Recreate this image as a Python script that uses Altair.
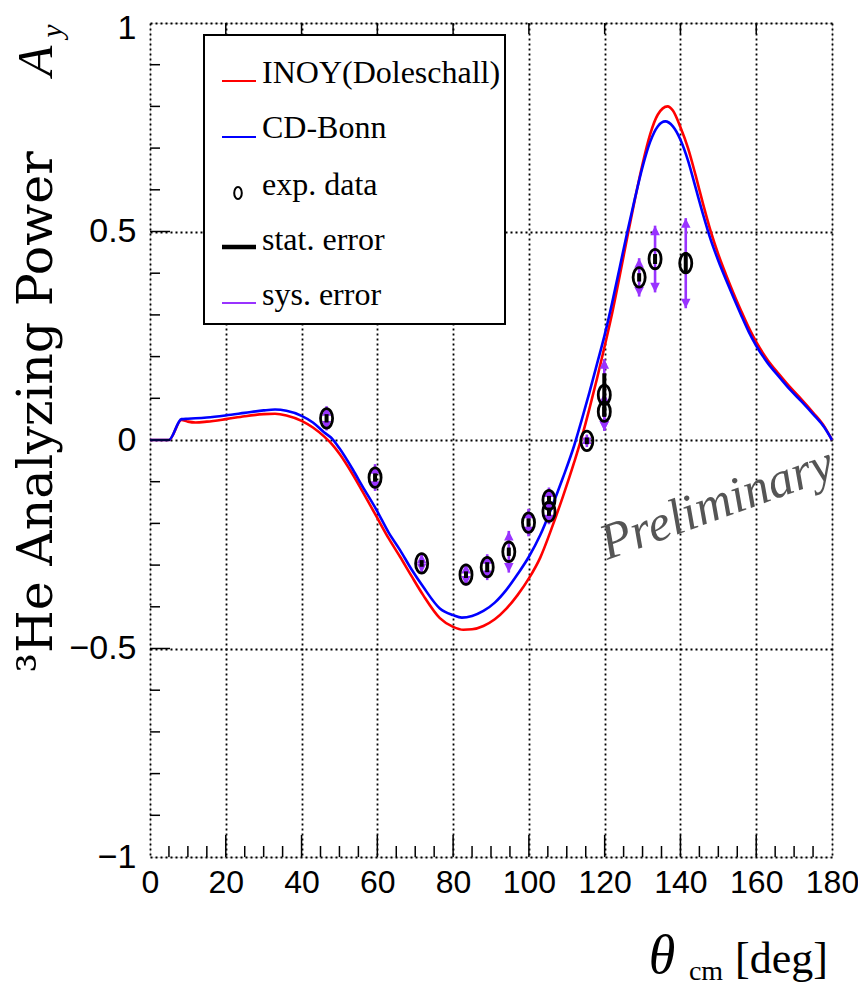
import altair as alt
import pandas as pd

# ---------------- data ----------------
# INOY (Doleschall) theory curve
inoy_x = [0, 5.0, 8.3, 10, 12, 15, 20, 25, 30, 33, 36, 40, 43, 46, 48, 50, 53.6, 56, 59.8, 63, 66, 69,
          72.1, 76.5, 80, 82.7, 85, 88, 91, 94, 97, 100, 103, 106, 109, 112, 114, 116, 118, 120, 122,
          124, 126, 128, 130, 132, 134, 136.6, 138, 140, 142, 144, 146, 148, 150, 152, 154, 156, 158,
          160, 163, 166, 169, 172, 175, 178, 180]
inoy_y = [0, 0, 0.048, 0.044, 0.042, 0.044, 0.05, 0.057, 0.062, 0.063, 0.059, 0.046, 0.03, 0.008, -0.01,
          -0.033, -0.084, -0.122, -0.184, -0.236, -0.28, -0.326, -0.372, -0.427, -0.448, -0.455, -0.454,
          -0.446, -0.43, -0.405, -0.372, -0.332, -0.282, -0.212, -0.135, -0.052, 0.008, 0.076, 0.148,
          0.225, 0.305, 0.395, 0.488, 0.578, 0.662, 0.733, 0.78, 0.80, 0.79, 0.75, 0.70, 0.635, 0.565,
          0.50, 0.445, 0.397, 0.352, 0.31, 0.27, 0.235, 0.192, 0.158, 0.126, 0.097, 0.066, 0.032, 0]

# CD-Bonn theory curve
bonn_x = [0, 5.0, 8.3, 10, 12, 15, 20, 25, 30, 33, 36, 40, 43, 46, 48, 50, 53.6, 56, 59.8, 63, 66, 69,
          72.1, 76.5, 80, 82.3, 85, 88, 91, 94, 97, 100, 103, 106, 109, 112, 114, 116, 118, 120, 122,
          124, 126, 128, 130, 132, 134, 136, 138, 140, 142, 144, 146, 148, 150, 152, 154, 156, 158,
          160, 163, 166, 169, 172, 175, 178, 180]
bonn_y = [0, 0, 0.05, 0.051, 0.052, 0.054, 0.059, 0.065, 0.071, 0.073, 0.07, 0.058, 0.042, 0.018, 0.004,
          -0.02, -0.072, -0.11, -0.168, -0.222, -0.264, -0.31, -0.352, -0.404, -0.42, -0.426, -0.422,
          -0.41, -0.39, -0.36, -0.322, -0.28, -0.228, -0.162, -0.09, -0.012, 0.05, 0.115, 0.183, 0.252,
          0.33, 0.415, 0.50, 0.58, 0.655, 0.715, 0.752, 0.764, 0.752, 0.72, 0.67, 0.605, 0.54, 0.48,
          0.43, 0.385, 0.342, 0.30, 0.26, 0.226, 0.185, 0.152, 0.12, 0.092, 0.062, 0.03, 0]

# experimental data
exp_x = [46.6, 59.4, 71.7, 83.4, 89.0, 94.7, 99.9, 105.3, 105.3, 115.3, 119.9, 119.9, 129.1, 133.3, 141.4]
exp_y = [0.052, -0.090, -0.296, -0.323, -0.305, -0.268, -0.198, -0.144, -0.172, -0.002, 0.108, 0.068,
         0.390, 0.434, 0.424]
stat_err = [0.010, 0.010, 0.008, 0.008, 0.012, 0.010, 0.010, 0.010, 0.010, 0.008, 0.052, 0.012, 0.010,
            0.012, 0.026]
sys_err = [0.029, 0.032, 0.023, 0.026, 0.031, 0.050, 0.033, 0.030, 0.030, 0.015, 0.086, 0.045, 0.046,
           0.080, 0.108]

x_tick_values = [0, 20, 40, 60, 80, 100, 120, 140, 160, 180]
y_tick_values = [-1, -0.5, 0, 0.5, 1]
x_minor = [v for v in range(5, 180, 5) if v % 20 != 0]
x_major = [20, 40, 60, 80, 100, 120, 140, 160]
y_minor = [round(v / 10, 1) for v in range(-9, 10) if v % 5 != 0]
y_major = [-0.5, 0, 0.5]

legend_labels = ["INOY(Doleschall)", "CD-Bonn", "exp. data", "stat. error", "sys. error"]

prelim_pos = (120.7, -0.288)

# ---------------- build ----------------
W, H = 682, 834
RED, BLUE, PURPLE = "#ff0000", "#0000ff", "#9933ff"
SERIF = "Liberation Serif"
SANS = "Liberation Sans"

xs = alt.Scale(domain=[0, 180], nice=False, zero=False)
ys = alt.Scale(domain=[-1, 1], nice=False, zero=False)

x_axis = alt.Axis(values=x_tick_values, format="d", grid=True, gridDash=[2, 3], gridColor="black",
                  gridWidth=1.8, gridOpacity=1, ticks=False, domain=False, labelFont=SANS,
                  labelFontSize=32, labelColor="black", labelPadding=10, labelFlush=False,
                  labelOverlap=False, title=None)
y_axis = alt.Axis(values=y_tick_values, format="~g", grid=True, gridDash=[2, 3], gridColor="black",
                  gridWidth=1.8, gridOpacity=1, ticks=False, domain=False, labelFont=SANS,
                  labelFontSize=34, labelColor="black", labelPadding=14, labelOverlap=False,
                  labelOffset=alt.ExprRef("datum.value == 1 ? 5 : 0"), title=None)


def X(field):
    return alt.X(field, scale=xs, axis=x_axis)


def Y(field):
    return alt.Y(field, scale=ys, axis=y_axis)


inoy_df = pd.DataFrame({"x": inoy_x, "y": inoy_y})
bonn_df = pd.DataFrame({"x": bonn_x, "y": bonn_y})

curve_inoy = alt.Chart(inoy_df).mark_line(strokeWidth=2.6, interpolate="monotone", color=RED).encode(
    x=X("x:Q"), y=Y("y:Q"), order=alt.Order("x:Q"))
curve_bonn = alt.Chart(bonn_df).mark_line(strokeWidth=2.6, interpolate="monotone", color=BLUE).encode(
    x=X("x:Q"), y=Y("y:Q"), order=alt.Order("x:Q"))

pts = pd.DataFrame({"x": exp_x, "y": exp_y, "stat": stat_err, "sys": sys_err})
pts["slo"] = pts["y"] - pts["stat"]
pts["shi"] = pts["y"] + pts["stat"]
pts["ylo"] = pts["y"] - pts["sys"]
pts["yhi"] = pts["y"] + pts["sys"]
pbase = alt.Chart(pts)

sys_rule = pbase.mark_rule(color=PURPLE, strokeWidth=2.6).encode(x=X("x:Q"), y=Y("ylo:Q"), y2="yhi:Q")
up_head = pbase.mark_point(shape="M0,0L0.55,1.1L-0.55,1.1Z", filled=True, size=300, color=PURPLE,
                           opacity=1).encode(x=X("x:Q"), y=Y("yhi:Q"))
down_head = pbase.mark_point(shape="M0,0L0.55,-1.1L-0.55,-1.1Z", filled=True, size=300, color=PURPLE,
                             opacity=1).encode(x=X("x:Q"), y=Y("ylo:Q"))
stat_rule = pbase.mark_rule(color="black", strokeWidth=4).encode(x=X("x:Q"), y=Y("slo:Q"), y2="shi:Q")
ELLIPSE = "M-0.62,0A0.62,1,0,1,0,0.62,0A0.62,1,0,1,0,-0.62,0Z"
markers = pbase.mark_point(shape=ELLIPSE, size=380, filled=False, color="black", strokeWidth=2.8,
                           opacity=1).encode(x=X("x:Q"), y=Y("y:Q"))


# inner ticks (ROOT style)
def xticks(vals, y0, y1):
    return alt.Chart(pd.DataFrame({"v": vals})).mark_rule(color="black", strokeWidth=1.5).encode(
        x=X("v:Q"), y=alt.value(y0), y2=alt.value(y1))


def yticks(vals, length):
    return alt.Chart(pd.DataFrame({"v": vals})).mark_rule(color="black", strokeWidth=1.5).encode(
        y=Y("v:Q"), x=alt.value(0), x2=alt.value(length))


ticks = [xticks(x_minor, H, H - 11), xticks(x_major, H, H - 22), xticks(x_major, 0, 11),
         yticks(y_minor, 10), yticks(y_major, 20)]

# Preliminary watermark
prelim = alt.Chart(pd.DataFrame({"x": [prelim_pos[0]], "y": [prelim_pos[1]], "t": ["Preliminary"]})).mark_text(
    angle=340, align="left", baseline="alphabetic", font=SERIF, fontStyle="italic", fontSize=51,
    color="#555555").encode(x=X("x:Q"), y=Y("y:Q"), text="t:N")

# legend (hand-built, ROOT style)
one = pd.DataFrame({"a": [0]})
leg_box = alt.Chart(one).mark_rect(fill="white", stroke="black", strokeWidth=2).encode(
    x=alt.value(54), x2=alt.value(355), y=alt.value(12), y2=alt.value(301))
leg_lines_df = pd.DataFrame({
    "ly": [58, 114, 224, 280],
    "c": [RED, BLUE, "black", PURPLE],
    "w": [2.2, 2.2, 4.5, 2.2],
})
leg_lines = alt.Chart(leg_lines_df).mark_rule().encode(
    x=alt.value(72), x2=alt.value(106), y=alt.Y("ly:Q", scale=None),
    color=alt.Color("c:N", scale=None), strokeWidth=alt.StrokeWidth("w:Q", scale=None))
leg_marker = alt.Chart(one).mark_point(shape=ELLIPSE, size=150, filled=False, color="black",
                                       strokeWidth=2, opacity=1).encode(x=alt.value(88), y=alt.value(170))
leg_text = alt.Chart(pd.DataFrame({"label": legend_labels, "ty": [60, 115, 172, 227, 282]})).mark_text(
    align="left", baseline="alphabetic", font=SERIF, fontSize=32, color="black").encode(
    x=alt.value(112), y=alt.Y("ty:Q", scale=None), text="label:N")


# axis titles as text
def txt(t, x, y, size, angle=0, style="normal", align="center", font=SERIF):
    kw = dict(align=align, baseline="alphabetic", font=font, fontSize=size, color="black",
              fontStyle=style, text=t)
    if angle:
        kw["angle"] = angle
    return alt.Chart(one).mark_text(**kw).encode(x=alt.value(x), y=alt.value(y))


titles = [
    txt("³He Analyzing Power", -98, 389, 49, angle=270, font="DejaVu Serif"),
    txt("A", -98, 38, 50, angle=270, style="italic"),
    txt("y", -88, 8, 30, angle=270, style="italic"),
    txt("θ", 512, 950, 54, style="italic"),
    txt("cm", 556, 957, 28),
    txt("[deg]", 585, 950, 44, align="left"),
]

chart = alt.layer(
    curve_inoy, curve_bonn, sys_rule, up_head, down_head, stat_rule, markers, *ticks, prelim,
    leg_box, leg_lines, leg_marker, leg_text, *titles
).properties(
    width=W, height=H,
    padding={"left": 142, "top": 15, "right": 26, "bottom": 132},
    autosize=alt.AutoSizeParams(type="none"),
).configure_view(stroke="black", strokeWidth=2).configure(background="white")

chart.save("out.html", embed_options={"renderer": "svg", "actions": False})
